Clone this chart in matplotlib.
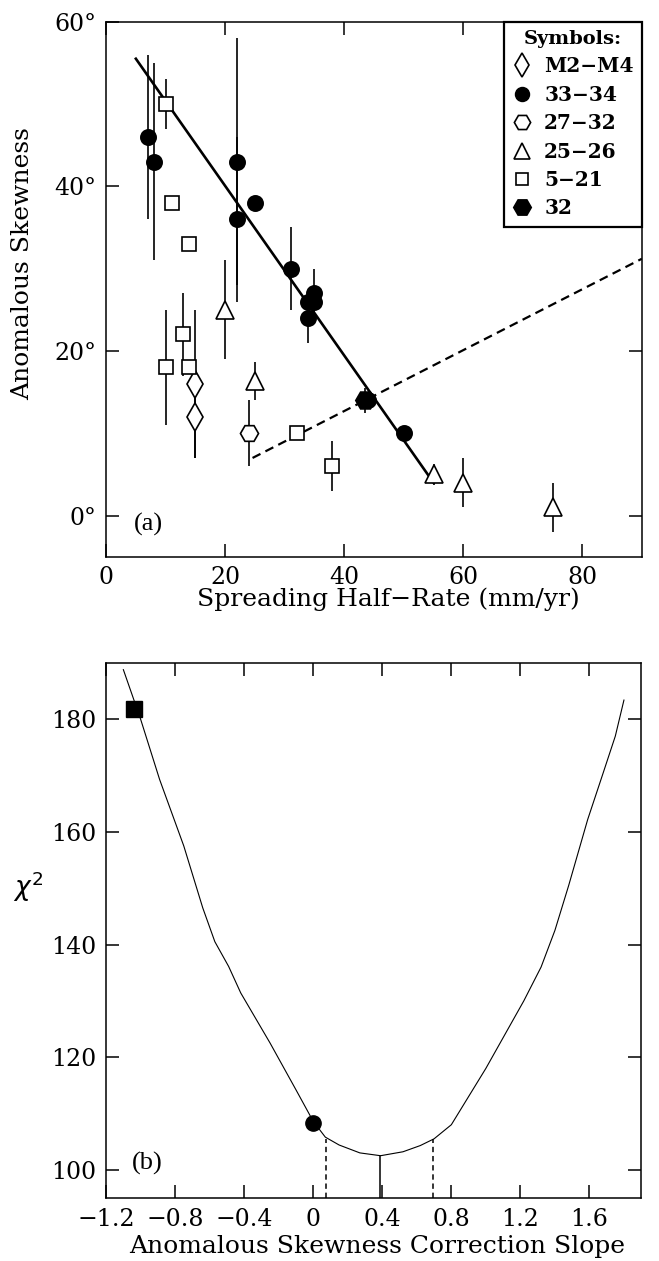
import matplotlib
matplotlib.use("Agg")
import matplotlib.pyplot as plt
from matplotlib.lines import Line2D

plt.rcParams['font.family'] = ['DejaVu Serif']
plt.rcParams['axes.linewidth'] = 1.1

# ---- panel (a) data: (rate, skewness, error) ----
m2m4_x = [15, 15]
m2m4_y = [16, 12]
m2m4_e = [9, 5]

c3334_x = [7, 8, 22, 22, 25, 31, 35, 34, 35, 34, 44, 50]
c3334_y = [46, 43, 43, 36, 38, 30, 27, 26, 26, 24, 14, 10]
c3334_e = [10, 12, 15, 10, 0, 5, 3, 0, 0, 3, 0, 0]

c2732_x = [24]
c2732_y = [10]
c2732_e = [4]

c2526_x = [20, 25, 55, 60, 75]
c2526_y = [25, 16.3, 5, 4, 1]
c2526_e = [6, 2.3, 1.3, 3, 3]

c521_x = [10, 11, 14, 13, 10, 14, 32, 38]
c521_y = [50, 38, 33, 22, 18, 18, 10, 6]
c521_e = [3, 0, 0, 5, 7, 0, 0, 3]

c32_x = [43.5]
c32_y = [14]
c32_e = [1.5]

fit_x = [5, 55]
fit_y = [55.5, 4]
corr_x = [24.6, 90]
corr_y = [7.0, 31.2]

a_xticks = [0, 20, 40, 60, 80]
a_yticks = [0, 20, 40, 60]
a_yticklabels = ['0°', '20°', '40°', '60°']

# ---- panel (b) data ----
slope = [-1.10, -1.00, -0.89, -0.75, -0.64, -0.57, -0.49, -0.42, -0.25, -0.10,
         0.00, 0.07, 0.15, 0.27, 0.39, 0.52, 0.62, 0.70, 0.80, 1.00, 1.22,
         1.32, 1.40, 1.48, 1.59, 1.68, 1.75, 1.80]
chi2 = [188.8, 180.0, 169.3, 157.5, 146.5, 140.5, 136.1, 131.4, 122.5, 114.2,
        108.6, 105.8, 104.4, 103.0, 102.5, 103.2, 104.3, 105.5, 108.0, 118.0,
        130.0, 136.0, 142.5, 150.5, 162.2, 170.5, 177.0, 183.4]
best_x, best_y = 0.385, 102.5
conf_x = [0.073, 0.695]
conf_y = [105.4, 105.4]
sq_x, sq_y = -1.036, 181.8
dot_x, dot_y = 0.0, 108.3

b_xticks = [-1.2, -0.8, -0.4, 0, 0.4, 0.8, 1.2, 1.6]
b_xticklabels = ['−1.2', '−0.8', '−0.4', '0', '0.4', '0.8', '1.2', '1.6']
b_yticks = [100, 120, 140, 160, 180]

fig = plt.figure(figsize=(6.59, 12.61), dpi=100)
ax1 = fig.add_axes([0.161, 0.5585, 0.813, 0.4243])
ax2 = fig.add_axes([0.161, 0.050, 0.812, 0.4243])

for ax in (ax1, ax2):
    ax.tick_params(direction='in', length=9.5, width=1.1, top=True, right=True,
                   labelsize=17, pad=7)

# panel (a)
groups = [
    (m2m4_x, m2m4_y, m2m4_e, 'd', 'white', 14, 'M2−M4'),
    (c3334_x, c3334_y, c3334_e, 'o', 'black', 11, '33−34'),
    (c2732_x, c2732_y, c2732_e, 'H', 'white', 13, '27−32'),
    (c2526_x, c2526_y, c2526_e, '^', 'white', 13, '25−26'),
    (c521_x, c521_y, c521_e, 's', 'white', 10, '5−21'),
    (c32_x, c32_y, c32_e, 'H', 'black', 14, '32'),
]
handles = []
for gx, gy, ge, mk, fc, ms, lab in groups:
    ax1.errorbar(gx, gy, yerr=ge, fmt='none', ecolor='black', elinewidth=1.2,
                 capsize=0, zorder=2)
    ax1.plot(gx, gy, linestyle='none', marker=mk, markerfacecolor=fc,
             markeredgecolor='black', markeredgewidth=1.2, markersize=ms, zorder=4)
    handles.append(Line2D([], [], linestyle='none', marker=mk, markerfacecolor=fc,
                          markeredgecolor='black', markeredgewidth=1.2,
                          markersize=ms * 0.9, label=lab))

ax1.plot(fit_x, fit_y, color='black', lw=1.9, zorder=3)
ax1.plot(corr_x, corr_y, color='black', lw=1.6, linestyle=(0, (4, 2.5)), zorder=3)

ax1.set_xlim(0, 90)
ax1.set_ylim(-5, 60)
ax1.set_xticks(a_xticks)
ax1.set_yticks(a_yticks)
ax1.set_yticklabels(a_yticklabels)
ax1.set_xlabel('Spreading Half−Rate (mm/yr)', fontsize=18)
ax1.xaxis.set_label_coords(0.526, -0.058)
ax1.set_ylabel('Anomalous Skewness', fontsize=18)
ax1.yaxis.label.set_va('center')
ax1.yaxis.set_label_coords(-0.155, 0.548)
ax1.text(7.1, -1.1, '(a)', fontsize=19, family='Liberation Serif',
         ha='center', va='center')

leg = ax1.legend(handles=handles, title='Symbols:', loc='upper right',
                 borderaxespad=0, fancybox=False, edgecolor='black',
                 framealpha=1, handlelength=1.0, handletextpad=0.6,
                 labelspacing=0.42, borderpad=0.4,
                 prop={'weight': 'bold', 'size': 14.5})
leg.get_title().set_fontweight('bold')
leg.get_title().set_fontsize(14)
leg.get_frame().set_linewidth(1.6)

# panel (b)
ax2.plot(slope, chi2, color='black', lw=0.8, zorder=2)
ax2.plot([best_x, best_x], [95, best_y], color='black', lw=1.1)
for cx, cy in zip(conf_x, conf_y):
    ax2.plot([cx, cx], [95, cy], color='black', lw=1.1, linestyle=(0, (3.5, 2.5)))
ax2.plot([sq_x], [sq_y], marker='s', color='black', markersize=11, zorder=4)
ax2.plot([dot_x], [dot_y], marker='o', color='black', markersize=11, zorder=4)

ax2.set_xlim(-1.2, 1.9)
ax2.set_ylim(95, 190)
ax2.set_xticks(b_xticks)
ax2.set_xticklabels(b_xticklabels)
ax2.set_yticks(b_yticks)
ax2.set_xlabel('Anomalous Skewness Correction Slope', fontsize=18)
ax2.xaxis.set_label_coords(0.506, -0.069)
ax2.set_ylabel(r'$\chi^2$', fontsize=19, rotation=0)
ax2.yaxis.label.set_va('center')
ax2.yaxis.label.set_ha('center')
ax2.yaxis.set_label_coords(-0.146, 0.581)
ax2.text(-0.96, 101.2, '(b)', fontsize=19, family='Liberation Serif',
         ha='center', va='center')

fig.savefig('out.png', dpi=100)
